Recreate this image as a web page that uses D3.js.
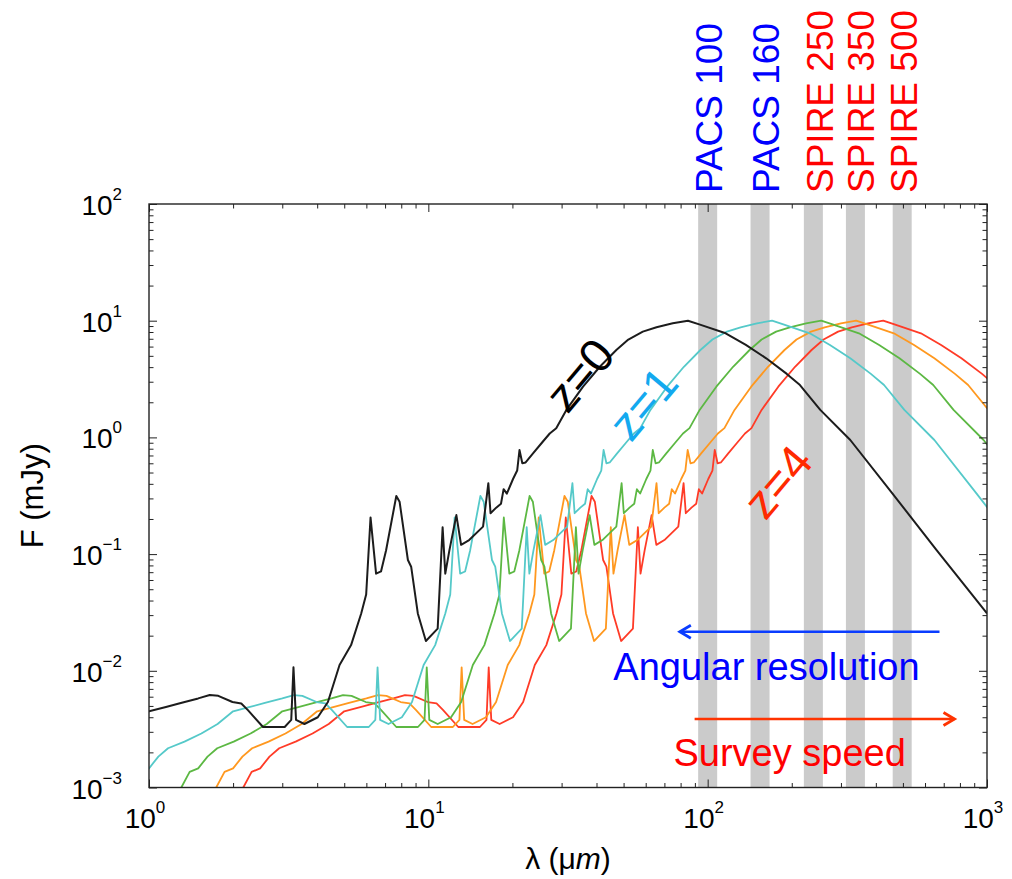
<!DOCTYPE html>
<html><head><meta charset="utf-8">
<script src="https://cdn.jsdelivr.net/npm/d3@7"></script>
<style>
body{margin:0;background:#fff}
svg{display:block}
text{font-family:"Liberation Sans",Arial,Helvetica,sans-serif}
</style>
</head><body>
<svg id="chart" width="1012" height="879"></svg>
<script>
// ---- data ----
// rest-frame template SED (z = 0 curve), wavelength in micron, flux in mJy
const restWavelength = [0.435,0.466,0.50,0.54,0.585,0.67,0.77,0.88,1.00,1.15,1.30,1.50,1.65,1.77,1.99,2.14,2.26,2.56,3.06,3.23,3.29,3.36,3.60,4.02,4.37,4.81,5.29,5.75,5.99,6.21,6.50,6.77,7.06,7.68,7.89,8.45,8.68,9.17,9.8,10.8,11.25,11.5,11.9,12.6,13.1,14.0,15.7,16.4,16.7,17.5,18.2,18.6,19.1,20.1,20.8,21.2,21.7,22.3,23.7,25.5,27.2,28.7,31.2,35.8,41.1,47.1,52.0,58.6,65.6,75,85,93.3,116,137,162,192,214,253,324,459,660,1000];
const restFlux = [1.0e-3,1.36e-3,1.46e-3,1.84e-3,2.17e-3,2.47e-3,2.9e-3,3.5e-3,4.5e-3,4.9e-3,5.3e-3,5.8e-3,6.2e-3,6.1e-3,5.4e-3,5.25e-3,4.6e-3,3.3e-3,3.3e-3,3.8e-3,1.07e-2,3.8e-3,3.5e-3,4.0e-3,5.4e-3,1.12e-2,1.66e-2,3.1e-2,4.5e-2,0.206,6.8e-2,7.1e-2,0.108,0.315,0.281,8.9e-2,7.8e-2,3.1e-2,1.8e-2,2.3e-2,0.17,6.8e-2,0.108,0.216,0.12,0.132,0.172,0.405,0.224,0.25,0.27,0.36,0.33,0.44,0.52,0.78,0.6,0.61,0.73,0.9,1.08,1.2,1.72,2.72,4.03,5.61,6.9,8.06,8.78,9.5,10.0,9.3,7.8,6.2,4.76,3.5,2.81,1.72,0.95,0.33,0.108,0.031];
const redshifts = [0, 1, 2, 3, 4];
const zLabels = ["z=0", "z=1", "z=4"];
const zLabelWavelength = [34.8, 58.7, 178];
const zLabelFlux = [3.43, 1.96, 0.417];
const bandWavelengths = [100, 154, 239, 338, 497];
const bandLabels = ["PACS 100", "PACS 160", "SPIRE 250", "SPIRE 350", "SPIRE 500"];
const bandLabelWavelengths = [100, 160, 250, 350, 500];
const xTickExponents = [0, 1, 2, 3];
const yTickExponents = [-3, -2, -1, 0, 1, 2];

// ---- styles ----
const seriesColors = ["#1c1c1c", "#55c9c9", "#5cb843", "#ff981f", "#ff3b27"];
const zLabelColors = ["#000000", "#13a9ef", "#ff2a00"];
const bandLabelColors = ["#0000ff", "#0000ff", "#ff0000", "#ff0000", "#ff0000"];

const svg = d3.select("#chart");
const L = 149, R = 987, T = 204, B = 787.5;
const x = d3.scaleLog().domain([1, 1000]).range([L, R]);
const y = d3.scaleLog().domain([1e-3, 1e2]).range([B, T]);

svg.append("defs").append("clipPath").attr("id", "clip")
  .append("rect").attr("x", L).attr("y", T).attr("width", R - L).attr("height", B - T);

// grey filter bands
svg.append("g").selectAll("rect").data(bandWavelengths).join("rect")
  .attr("x", d => x(d) - 9.5).attr("y", T).attr("width", 19).attr("height", B - T)
  .attr("fill", "#cbcbcb");

// curves
const line = d3.line().x(d => x(d[0])).y(d => y(d[1]));
const gCurves = svg.append("g").attr("clip-path", "url(#clip)");
redshifts.slice().reverse().forEach((z) => {
  const i = redshifts.indexOf(z);
  const pts = restWavelength.map((l, k) => [l * (1 + z), restFlux[k]]);
  gCurves.append("path").datum(pts).attr("d", line)
    .attr("fill", "none").attr("stroke", seriesColors[i])
    .attr("stroke-width", i === 0 ? 2 : 1.8).attr("stroke-linejoin", "round");
});

// axes: ticks inward on all sides
const minorX = [], minorY = [];
for (let e = 0; e < 3; e++) for (let k = 2; k <= 9; k++) minorX.push(k * Math.pow(10, e));
for (let e = -3; e < 2; e++) for (let k = 2; k <= 9; k++) minorY.push(k * Math.pow(10, e));
const majorX = xTickExponents.map(e => Math.pow(10, e));
const majorY = yTickExponents.map(e => Math.pow(10, e));

function addAxis(axisFn, scale, vals, size, tx, ty) {
  const g = svg.append("g").attr("transform", `translate(${tx},${ty})`)
    .call(axisFn(scale).tickValues(vals).tickSize(size).tickFormat(""));
  g.select(".domain").remove();
  g.selectAll("line").attr("stroke", "#222").attr("stroke-width", 1);
}
addAxis(d3.axisBottom, x, majorX, -8, 0, B);
addAxis(d3.axisBottom, x, minorX, -4.5, 0, B);
addAxis(d3.axisTop, x, majorX, -8, 0, T);
addAxis(d3.axisTop, x, minorX, -4.5, 0, T);
addAxis(d3.axisLeft, y, majorY, -8, L, 0);
addAxis(d3.axisLeft, y, minorY, -4.5, L, 0);
addAxis(d3.axisRight, y, majorY, -8, R, 0);
addAxis(d3.axisRight, y, minorY, -4.5, R, 0);

svg.append("rect").attr("x", L).attr("y", T).attr("width", R - L).attr("height", B - T)
  .attr("fill", "none").attr("stroke", "#222").attr("stroke-width", 1.4);

const expText = e => (e < 0 ? "\u2212" + (-e) : String(e));

// x tick labels
xTickExponents.forEach(e => {
  const t = svg.append("text").attr("x", x(Math.pow(10, e)) - 4).attr("y", B + 40)
    .attr("text-anchor", "middle").attr("fill", "#000");
  t.append("tspan").attr("font-size", 28).text("10");
  t.append("tspan").attr("font-size", 17).attr("dy", -15).text(expText(e));
});
// y tick labels
yTickExponents.forEach(e => {
  const t = svg.append("text").attr("x", 122).attr("y", y(Math.pow(10, e)) + 11)
    .attr("text-anchor", "end").attr("fill", "#000");
  t.append("tspan").attr("font-size", 28).text("10");
  t.append("tspan").attr("font-size", 17).attr("dy", -15).text(expText(e));
});

// axis titles
const xt = svg.append("text").attr("x", (L + R) / 2).attr("y", 869)
  .attr("text-anchor", "middle").attr("font-size", 30).attr("fill", "#000");
xt.append("tspan").text("\u03bb (\u03bc");
xt.append("tspan").attr("font-style", "italic").text("m");
xt.append("tspan").text(")");

svg.append("text").attr("transform", `translate(43,${(T + B) / 2}) rotate(-90)`)
  .attr("text-anchor", "middle").attr("font-size", 31).attr("fill", "#000").text("F (mJy)");

// band labels
svg.append("g").selectAll("text").data(bandLabels).join("text")
  .attr("transform", (d, i) => `translate(${x(bandLabelWavelengths[i]) + 14},193) rotate(-90)`)
  .attr("text-anchor", "start").attr("font-size", 37)
  .attr("fill", (d, i) => bandLabelColors[i]).text(d => d);

// redshift labels
svg.append("g").selectAll("text").data(zLabels).join("text")
  .attr("transform", (d, i) => `translate(${x(zLabelWavelength[i])},${y(zLabelFlux[i])}) rotate(-50)`)
  .attr("text-anchor", "middle").attr("dominant-baseline", "central")
  .attr("font-size", 47).attr("fill", (d, i) => zLabelColors[i]).text(d => d);

// arrows
function arrow(x0, x1, yy, color) {
  const px0 = x(x0), px1 = x(x1), py = y(yy);
  const dir = px1 > px0 ? 1 : -1;
  svg.append("line").attr("x1", px0).attr("x2", px1).attr("y1", py).attr("y2", py)
    .attr("stroke", color).attr("stroke-width", 2.6);
  svg.append("path")
    .attr("d", `M${px1 - dir * 11},${py - 6.5} L${px1},${py} L${px1 - dir * 11},${py + 6.5}`)
    .attr("fill", "none").attr("stroke", color).attr("stroke-width", 2.8)
    .attr("stroke-linejoin", "miter");
}
arrow(676, 79.5, 0.0216, "#0a3cff");
arrow(89.8, 765, 3.86e-3, "#ff3300");

svg.append("text").attr("x", x(162.4)).attr("y", y(8.3e-3)).attr("text-anchor", "middle")
  .attr("font-size", 38).attr("fill", "#0000ff").text("Angular resolution");
svg.append("text").attr("x", x(196.5)).attr("y", y(1.54e-3)).attr("text-anchor", "middle")
  .attr("font-size", 38).attr("fill", "#ff0000").text("Survey speed");
</script>
</body></html>
